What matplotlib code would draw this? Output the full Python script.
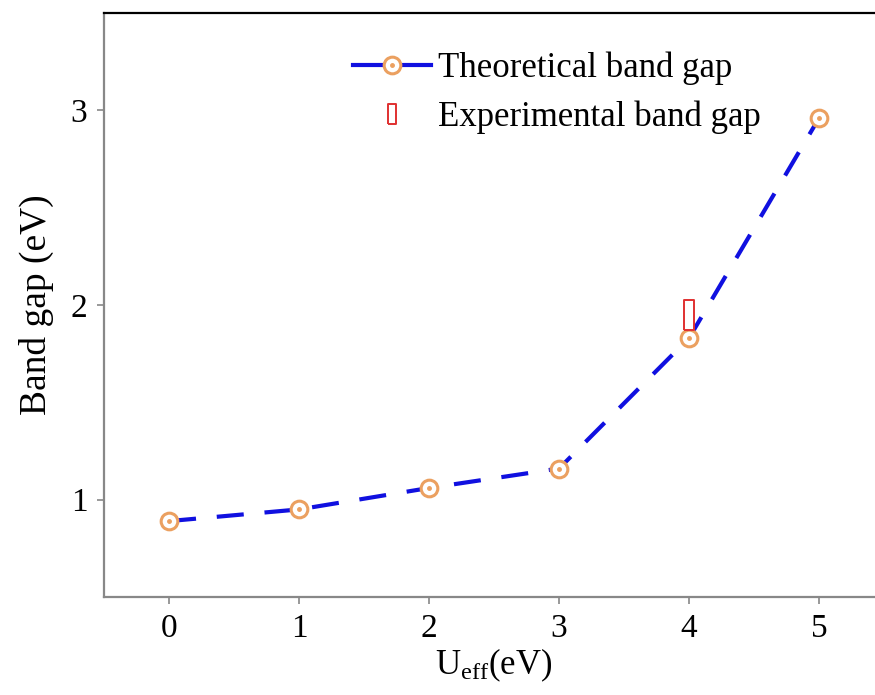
import numpy as np
import matplotlib
matplotlib.use("Agg")
import matplotlib.pyplot as plt
from matplotlib.lines import Line2D
from matplotlib.legend_handler import HandlerTuple

plt.rcParams['font.family'] = ['Liberation Serif', 'DejaVu Serif']
plt.rcParams['mathtext.fontset'] = 'custom'
plt.rcParams['mathtext.rm'] = 'Liberation Serif'
plt.rcParams['mathtext.it'] = 'Liberation Serif:italic'

# data
u_eff = [0, 1, 2, 3, 4, 5]
gap_theory = [0.89, 0.95, 1.06, 1.16, 1.83, 2.96]
u_exp = [4]
gap_exp = [1.95]

LINE_BLUE = '#1010e0'
RING = '#eba060'
EXP_RED = '#e03030'

fig = plt.figure(figsize=(8.75, 6.95), dpi=100)
ax = fig.add_axes([0.1189, 0.141, 0.8914, 0.8403])

ax.plot(u_eff, gap_theory, color=LINE_BLUE, lw=3, dashes=(6.5, 5),
        marker='o', markersize=12, mec=RING, mfc='white', mew=2.2, zorder=3)
ax.plot(u_eff, gap_theory, ls='none', marker='o', markersize=2.5,
        mec=RING, mfc=RING, zorder=4)
rect = [(-0.35, -1), (0.35, -1), (0.35, 1), (-0.35, 1), (-0.35, -1)]
ax.plot(u_exp, gap_exp, ls='none', marker=rect, markersize=21,
        mfc='white', mec=EXP_RED, mew=1.4, zorder=5)

# legend proxies (solid line in the key, as in the original)
h_line = Line2D([], [], color=LINE_BLUE, lw=3, marker='o', markersize=12,
                mec=RING, mfc='white', mew=2.2)
h_dot = Line2D([], [], ls='none', marker='o', markersize=2.5, mec=RING, mfc=RING)
h_exp = Line2D([], [], ls='none', marker=rect, markersize=15,
               mfc='white', mec=EXP_RED, mew=1.4)

ax.set_xlim(-0.5, 5.5)
ax.set_ylim(0.5, 3.5)
ax.set_xticks(u_eff)
ax.set_yticks([1, 2, 3])
ax.tick_params(labelsize=24, color='#888888', length=5, width=1.2, pad=7)

for side in ['left', 'bottom']:
    ax.spines[side].set_color('#888888')
    ax.spines[side].set_linewidth(1.6)
ax.spines['top'].set_linewidth(1.6)
ax.spines['right'].set_visible(False)

ax.set_xlabel(r'U$_{\mathrm{eff}}$(eV)', fontsize=25, labelpad=2)
ax.set_ylabel('Band gap (eV)', fontsize=27, labelpad=12)

ax.legend([(h_line, h_dot), h_exp], ['Theoretical band gap', 'Experimental band gap'],
          handler_map={tuple: HandlerTuple(ndivide=1)},
          loc='upper left', bbox_to_anchor=(0.292, 0.97), frameon=False,
          fontsize=25, handlelength=2.25, handletextpad=0.2, labelspacing=0.45,
          borderaxespad=0.2)

fig.savefig('out.png', dpi=100)
